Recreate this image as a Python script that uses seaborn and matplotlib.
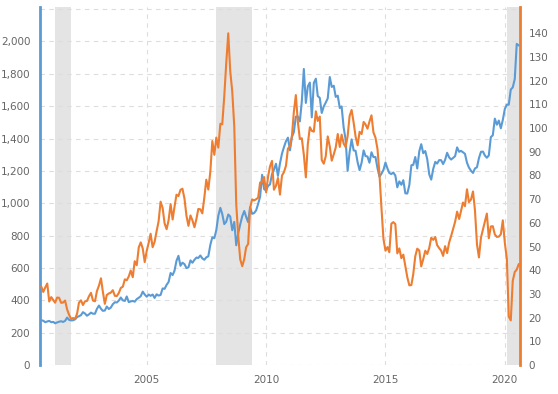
import pandas as pd
import seaborn as sns
import matplotlib.pyplot as plt
import matplotlib.dates as mdates
from matplotlib.ticker import FuncFormatter

# monthly closes, Aug 2000 - Aug 2020
months = pd.date_range("2000-08-01", "2020-08-01", freq="MS")

gold = [
    277.0, 273.65, 264.5, 269.1, 272.65,
    264.5, 266.7, 257.7, 263.15, 267.5, 270.6, 265.9, 273.0, 293.1, 278.75, 275.5, 276.5,
    282.3, 296.85, 301.4, 308.2, 326.6, 318.5, 304.65, 312.8, 323.7, 316.9, 317.05, 347.2,
    367.5, 347.45, 334.85, 336.75, 361.4, 346.0, 354.75, 375.6, 388.0, 386.25, 398.35, 417.25,
    399.75, 395.85, 423.7, 388.5, 393.25, 395.8, 391.4, 407.25, 415.65, 425.55, 453.4, 435.6,
    422.15, 435.45, 427.5, 435.7, 414.45, 437.1, 429.0, 433.25, 473.25, 470.75, 495.65, 513.0,
    568.75, 556.0, 582.0, 644.0, 675.0, 613.5, 632.5, 623.5, 599.25, 603.75, 646.7, 632.0,
    650.5, 664.2, 661.75, 677.0, 659.1, 650.5, 665.5, 672.0, 743.0, 789.5, 783.5, 833.75,
    923.25, 971.5, 933.5, 871.0, 885.75, 930.25, 918.0, 833.0, 884.5, 740.0, 814.5, 869.75,
    919.5, 952.0, 916.5, 883.25, 975.5, 934.5, 939.0, 955.5, 995.75, 1040.0, 1175.75, 1087.5,
    1078.5, 1108.25, 1115.5, 1179.25, 1207.5, 1244.0, 1169.0, 1246.0, 1307.0, 1346.75, 1383.5, 1405.5,
    1327.0, 1411.0, 1439.0, 1535.5, 1536.5, 1505.5, 1628.5, 1830.0, 1620.0, 1722.0, 1746.0, 1531.0,
    1744.0, 1770.0, 1662.5, 1651.25, 1558.0, 1598.5, 1622.0, 1648.5, 1780.0, 1719.0, 1726.0, 1657.5,
    1664.75, 1588.5, 1598.25, 1469.0, 1394.5, 1200.0, 1314.5, 1394.75, 1326.5, 1324.0, 1253.0, 1204.5,
    1251.0, 1326.5, 1291.75, 1288.5, 1250.5, 1315.0, 1285.25, 1285.75, 1216.5, 1164.25, 1182.75, 1206.0,
    1251.75, 1214.0, 1187.0, 1180.25, 1190.0, 1171.0, 1098.4, 1135.0, 1114.0, 1142.35, 1061.1, 1060.0,
    1111.8, 1234.9, 1237.0, 1285.65, 1214.7, 1320.75, 1365.0, 1309.25, 1322.5, 1272.0, 1178.1, 1145.9,
    1212.8, 1255.6, 1244.85, 1266.45, 1266.2, 1242.25, 1267.55, 1311.75, 1283.1, 1270.15, 1280.2, 1291.0,
    1345.15, 1317.85, 1323.85, 1315.05, 1305.35, 1250.45, 1220.4, 1200.9, 1187.25, 1214.95, 1222.5, 1279.0,
    1317.85, 1319.15, 1295.4, 1281.2, 1295.6, 1409.0, 1419.7, 1523.0, 1485.3, 1510.95, 1463.25, 1514.75,
    1582.9, 1609.85, 1608.95, 1702.75, 1715.9, 1768.1, 1985.0, 1975.0,
]

oil = [
    33.12, 30.84, 32.70, 34.40, 26.80,
    28.66, 27.39, 26.29, 28.46, 28.37, 26.25, 26.35, 27.20, 23.43, 21.18, 19.44, 19.84,
    19.48, 21.74, 26.31, 27.29, 25.31, 26.86, 27.02, 28.98, 30.45, 27.22, 26.89, 31.20,
    33.51, 36.60, 31.04, 25.80, 29.56, 30.19, 30.54, 31.57, 29.20, 29.11, 30.41, 32.52,
    33.05, 36.16, 35.76, 37.38, 39.88, 37.05, 43.80, 42.12, 49.64, 51.76, 49.13, 43.45,
    48.20, 51.75, 55.40, 49.72, 51.97, 56.50, 60.57, 68.94, 66.24, 59.76, 57.32, 61.04,
    67.92, 61.41, 66.63, 71.88, 71.29, 73.93, 74.40, 70.26, 62.91, 58.73, 63.13, 61.05,
    58.14, 61.79, 65.87, 65.71, 64.01, 70.68, 78.21, 74.04, 81.66, 94.53, 88.71, 95.98,
    91.75, 101.84, 101.58, 113.46, 127.35, 140.00, 124.08, 115.46, 100.64, 67.81, 54.43, 44.60,
    41.68, 44.76, 49.66, 51.12, 66.31, 69.89, 69.45, 69.96, 70.61, 77.00, 77.28, 79.36,
    72.89, 79.66, 83.76, 86.15, 73.97, 75.63, 78.95, 71.92, 79.97, 81.43, 84.11, 91.38,
    92.19, 96.97, 106.72, 113.93, 102.70, 95.42, 95.70, 88.81, 79.20, 93.19, 100.36, 98.83,
    98.48, 107.07, 103.02, 104.87, 86.53, 84.96, 88.06, 96.47, 92.19, 86.24, 88.91, 91.82,
    97.49, 92.05, 97.23, 93.46, 91.97, 96.56, 105.03, 107.65, 102.33, 96.38, 92.72, 98.42,
    97.49, 102.59, 101.58, 99.74, 102.71, 105.37, 98.17, 95.96, 91.16, 80.54, 66.15, 53.27,
    48.24, 49.76, 47.60, 59.63, 60.30, 59.47, 47.12, 49.20, 45.09, 46.59, 41.65, 37.04,
    33.62, 33.75, 38.34, 45.92, 49.10, 48.33, 41.60, 44.70, 48.24, 46.86, 49.44, 53.72,
    52.81, 54.01, 50.60, 49.33, 48.32, 46.04, 50.17, 47.23, 51.67, 54.38, 57.40, 60.42,
    64.73, 61.64, 64.94, 68.57, 67.04, 74.15, 68.76, 69.80, 73.25, 65.31, 50.93, 45.41,
    53.79, 57.22, 60.14, 63.91, 53.50, 58.47, 58.58, 55.10, 54.07, 54.18, 55.17, 61.06,
    51.56, 44.76, 20.48, 18.84, 35.49, 39.27, 40.27, 42.61,
]

recessions = [("2001-03-01", "2001-11-01"), ("2007-12-01", "2009-06-01"), ("2020-02-01", "2020-09-01")]

blue = "#5b9bd5"
orange = "#ed7d31"
txt = "#666666"

df = pd.DataFrame({"date": months, "gold": gold, "oil": oil})

sns.set_style("white")
plt.rcParams["font.family"] = ["DejaVu Sans"]

fig = plt.figure(figsize=(5.58, 3.94), dpi=100)
ax = fig.add_axes([40 / 558, 29 / 394, 480 / 558, 358 / 394])
ax2 = ax.twinx()

for start, end in recessions:
    ax.axvspan(pd.Timestamp(start), pd.Timestamp(end), color="#e4e4e4", lw=0, zorder=0)

sns.lineplot(data=df, x="date", y="gold", ax=ax, color=blue, lw=1.5, zorder=3)
sns.lineplot(data=df, x="date", y="oil", ax=ax2, color=orange, lw=1.5, zorder=3)

ax.set_xlim(pd.Timestamp("2000-07-13"), pd.Timestamp("2020-08-20"))
ax.set_ylim(0, 2213)
ax2.set_ylim(0, 151.1)

ax.set_yticks(range(0, 2201, 200))
ax.yaxis.set_major_formatter(FuncFormatter(lambda v, p: "" if v > 2100 else f"{int(v):,}"))
ax2.set_yticks(range(0, 141, 10))
ax.xaxis.set_major_locator(mdates.YearLocator(5))
ax.xaxis.set_major_formatter(mdates.DateFormatter("%Y"))

ax.grid(True, color="#dddddd", ls=(0, (4, 4)), lw=0.8)
ax2.grid(False)
ax.set_axisbelow(True)

for a in (ax, ax2):
    a.set_xlabel("")
    a.set_ylabel("")
    a.tick_params(length=0, labelsize=7.5, colors=txt)
    for s in a.spines.values():
        s.set_visible(False)

ax.tick_params(axis="y", pad=7)
ax.tick_params(axis="x", pad=7)
ax2.tick_params(axis="y", pad=6)
ax.spines["left"].set_visible(True)
ax.spines["left"].set_color(blue)
ax.spines["left"].set_linewidth(2)
ax2.spines["right"].set_visible(True)
ax2.spines["right"].set_color(orange)
ax2.spines["right"].set_linewidth(2)

fig.savefig("out.png", dpi=100)
